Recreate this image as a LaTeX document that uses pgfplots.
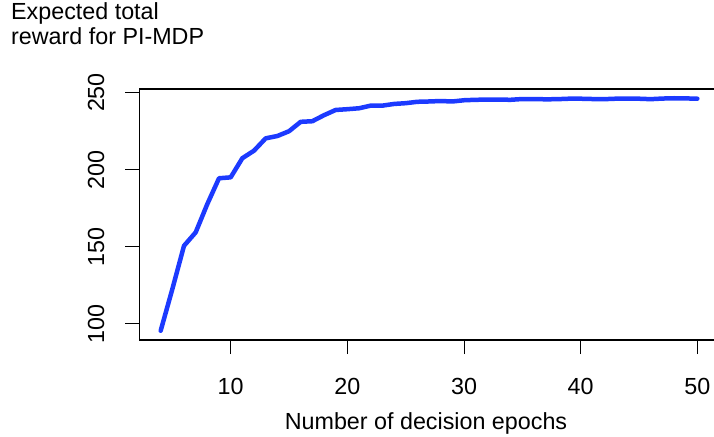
\documentclass[border=0pt]{standalone}
\usepackage{pgfplots}
\pgfplotsset{compat=1.18}
\usepackage{fontspec}
\setmainfont{Liberation Sans}
\definecolor{rblue}{RGB}{28,58,255}
\begin{document}
\fontsize{23.3pt}{28pt}\selectfont
\begin{tikzpicture}[x=1pt,y=1pt]
\path[use as bounding box] (0,0) rectangle (714,436);
\begin{axis}[
  at={(139.2pt,96pt)}, anchor=south west,
  scale only axis, width=579.6pt, height=251pt,
  xmin=2.16, xmax=51.84, ymin=89.5, ymax=252.3,
  xtick={10,20,30,40,50}, ytick={100,150,200,250},
  tick align=outside, major tick length=14pt,
  tick style={black, line width=1pt},
  axis line style={black, line width=1.1pt},
  xtick pos=bottom, ytick pos=left,
  /pgf/number format/assume math mode=true,
  xticklabel style={anchor=north, inner sep=0pt, yshift=-23.7pt},
  yticklabel style={xshift=-20.7pt, rotate=90, anchor=south, inner sep=0pt},
  clip=false,
]
\addplot[rblue, line width=4.5pt, line join=round, line cap=round] coordinates {
(4,95.5) (5,122.5) (6,150.6) (7,159.3) (8,177.7) (9,194.4) (10,195.0)
(11,207.4) (12,212.3) (13,220.3) (14,221.8) (15,224.9) (16,231.0) (17,231.4)
(18,235.3) (19,238.7) (20,239.2) (21,239.8) (22,241.5) (23,241.5) (24,242.6)
(25,243.1) (26,244.0) (27,244.2) (28,244.5) (29,244.2) (30,245.0) (31,245.3)
(32,245.4) (33,245.4) (34,245.3) (35,245.8) (36,245.8) (37,245.6) (38,245.7)
(39,246.0) (40,246.0) (41,245.8) (42,245.7) (43,246.0) (44,246.0) (45,246.0)
(46,245.7) (47,246.1) (48,246.3) (49,246.2) (50,246.0)
};
\end{axis}
\node[anchor=base west, inner sep=0pt] at (11,416) {Expected total};
\node[anchor=base west, inner sep=0pt] at (11,391) {reward for PI-MDP};
\node[anchor=base, inner sep=0pt] at (426,7) {Number of decision epochs};
\end{tikzpicture}
\end{document}
